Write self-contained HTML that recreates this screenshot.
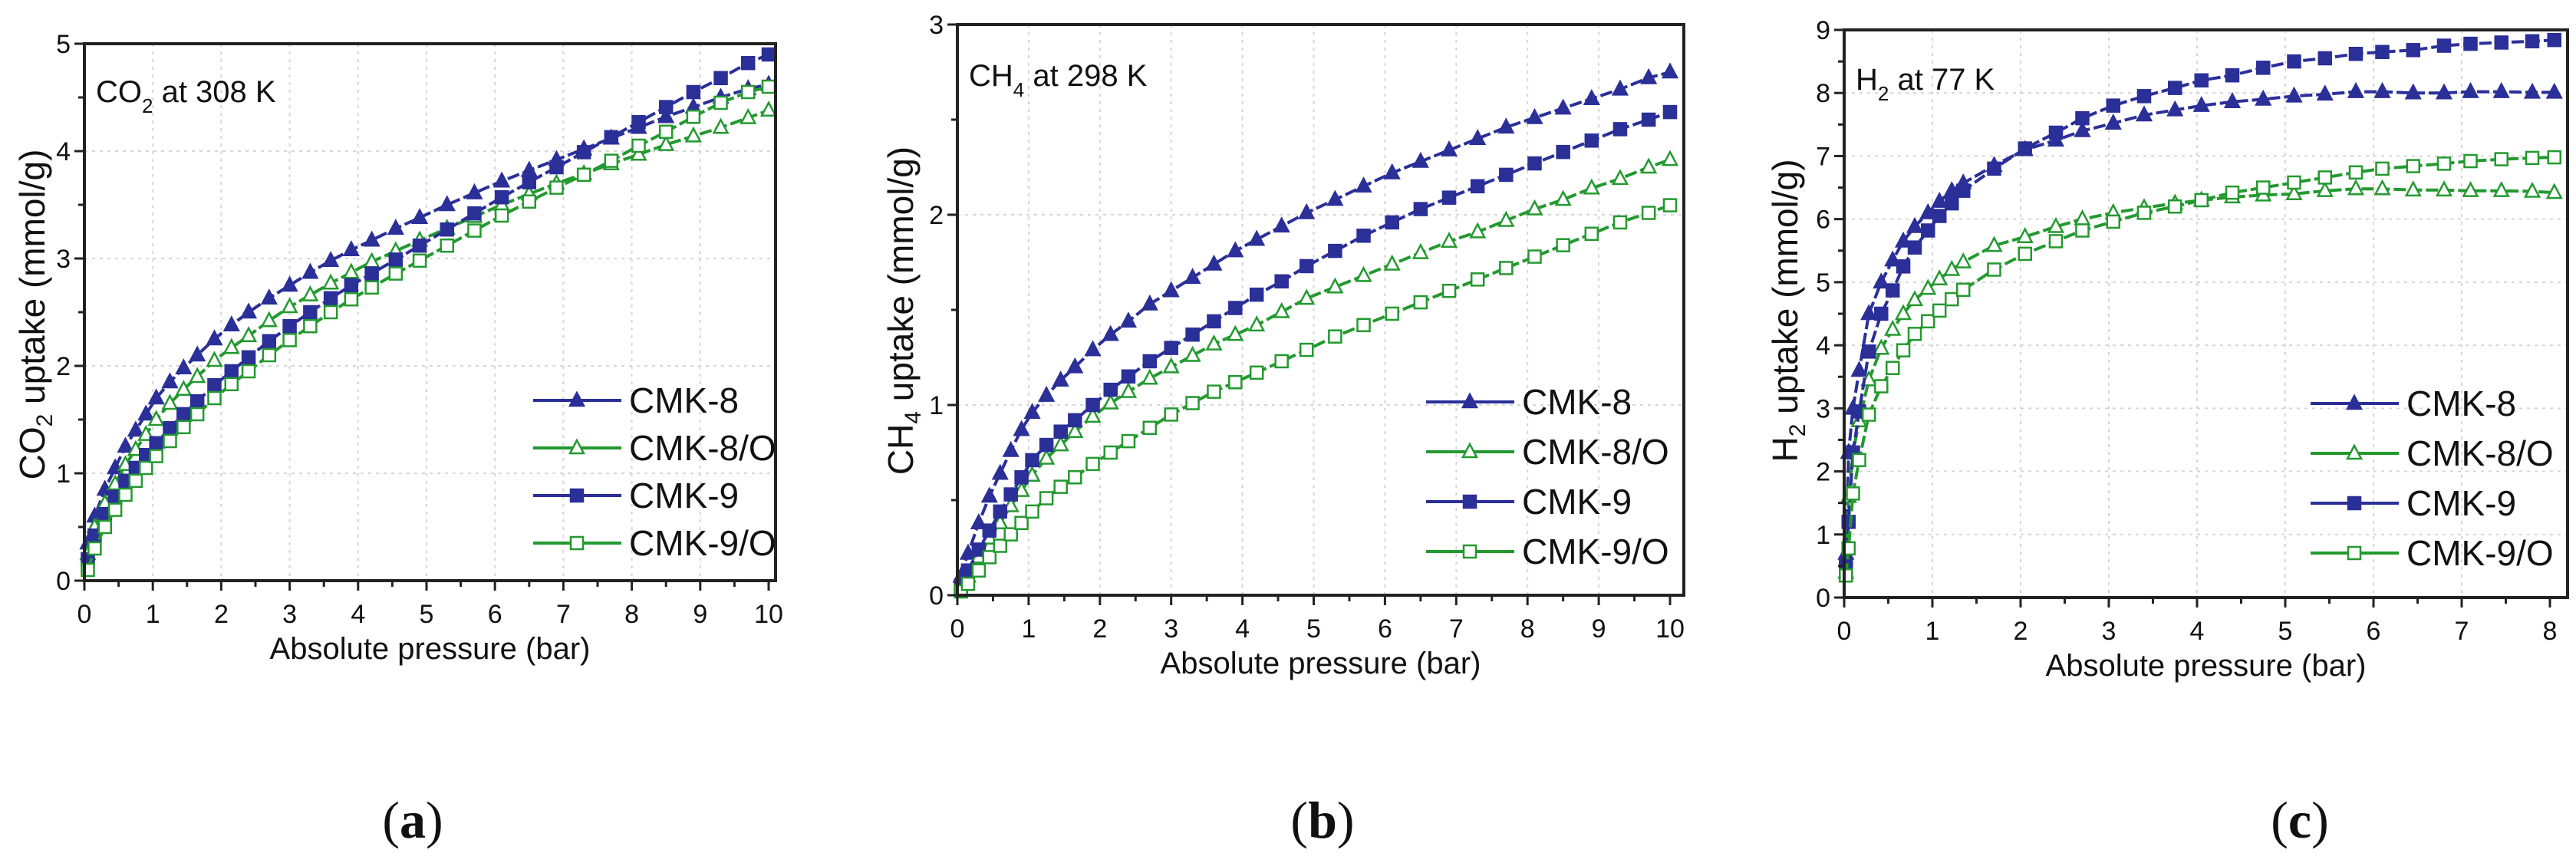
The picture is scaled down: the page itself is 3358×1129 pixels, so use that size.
<!DOCTYPE html>
<html><head><meta charset="utf-8">
<style>
html,body{margin:0;padding:0;background:#fff;}
svg{display:block;font-family:"Liberation Sans",sans-serif;}
</style></head>
<body>
<svg id="fig" width="3358" height="1129" viewBox="0 0 3358 1129" xmlns="http://www.w3.org/2000/svg"></svg>
<script>
// ---- Panel (a) CO2 data ----
const pA = [0.05,0.15,0.3,0.45,0.6,0.75,0.9,1.05,1.25,1.45,1.65,1.9,2.15,2.4,2.7,3,3.3,3.6,3.9,4.2,4.55,4.9,5.3,5.7,6.1,6.5,6.9,7.3,7.7,8.1,8.5,8.9,9.3,9.7,10];
const aCMK8 = [0.35,0.6,0.85,1.05,1.25,1.4,1.55,1.7,1.85,1.98,2.1,2.25,2.38,2.5,2.63,2.75,2.87,2.98,3.08,3.17,3.28,3.38,3.5,3.61,3.72,3.82,3.92,4.02,4.12,4.22,4.32,4.41,4.5,4.58,4.62];
const aCMK8O = [0.25,0.5,0.72,0.9,1.08,1.22,1.36,1.5,1.65,1.78,1.9,2.05,2.17,2.28,2.42,2.55,2.66,2.77,2.87,2.97,3.07,3.17,3.28,3.39,3.5,3.6,3.7,3.79,3.88,3.97,4.06,4.14,4.22,4.31,4.38];
const aCMK9 = [0.2,0.42,0.62,0.78,0.93,1.05,1.17,1.28,1.42,1.55,1.67,1.82,1.95,2.08,2.23,2.37,2.5,2.63,2.75,2.86,2.99,3.12,3.27,3.42,3.57,3.71,3.85,3.99,4.13,4.27,4.41,4.55,4.68,4.82,4.9];
const aCMK9O = [0.1,0.3,0.5,0.66,0.8,0.93,1.05,1.16,1.3,1.43,1.55,1.7,1.83,1.95,2.1,2.24,2.37,2.5,2.62,2.73,2.86,2.98,3.12,3.26,3.4,3.53,3.66,3.78,3.91,4.05,4.18,4.32,4.45,4.55,4.6];
// ---- Panel (b) CH4 data ----
const pB = [0.05,0.15,0.3,0.45,0.6,0.75,0.9,1.05,1.25,1.45,1.65,1.9,2.15,2.4,2.7,3,3.3,3.6,3.9,4.2,4.55,4.9,5.3,5.7,6.1,6.5,6.9,7.3,7.7,8.1,8.5,8.9,9.3,9.7,10];
const bCMK8 = [0.1,0.22,0.38,0.52,0.64,0.76,0.87,0.96,1.05,1.13,1.2,1.29,1.37,1.44,1.53,1.6,1.67,1.74,1.81,1.87,1.94,2.01,2.08,2.15,2.22,2.28,2.34,2.4,2.46,2.51,2.56,2.61,2.66,2.72,2.75];
const bCMK8O = [0.03,0.1,0.2,0.3,0.38,0.47,0.55,0.63,0.72,0.79,0.86,0.94,1.01,1.07,1.14,1.2,1.26,1.32,1.37,1.42,1.49,1.56,1.62,1.68,1.74,1.8,1.86,1.91,1.97,2.03,2.08,2.14,2.19,2.25,2.29];
const bCMK9 = [0.05,0.13,0.24,0.34,0.44,0.53,0.62,0.71,0.79,0.86,0.92,1.0,1.08,1.15,1.23,1.3,1.37,1.44,1.51,1.58,1.65,1.73,1.81,1.89,1.96,2.03,2.09,2.15,2.21,2.27,2.33,2.39,2.45,2.5,2.54];
const bCMK9O = [0.02,0.06,0.13,0.2,0.26,0.32,0.38,0.44,0.51,0.57,0.62,0.69,0.75,0.81,0.88,0.95,1.01,1.07,1.12,1.17,1.23,1.29,1.36,1.42,1.48,1.54,1.6,1.66,1.72,1.78,1.84,1.9,1.96,2.01,2.05];
// ---- Panel (c) H2 data ----
const pC = [0.02,0.05,0.1,0.17,0.28,0.42,0.55,0.67,0.8,0.95,1.08,1.22,1.35,1.7,2.05,2.4,2.7,3.05,3.4,3.75,4.05,4.4,4.75,5.1,5.45,5.8,6.1,6.45,6.8,7.1,7.45,7.8,8.05];
const cCMK8 = [0.7,2.3,3.0,3.6,4.5,5.0,5.35,5.65,5.88,6.1,6.28,6.45,6.57,6.85,7.1,7.25,7.4,7.52,7.65,7.73,7.8,7.86,7.9,7.95,7.98,8.02,8.02,8.0,8.0,8.02,8.02,8.01,8.01];
const cCMK8O = [0.4,1.6,2.3,2.8,3.45,3.95,4.25,4.5,4.72,4.9,5.05,5.2,5.32,5.58,5.72,5.88,6.0,6.1,6.18,6.25,6.3,6.35,6.38,6.4,6.45,6.48,6.48,6.46,6.46,6.45,6.45,6.44,6.42];
const cCMK9 = [0.5,1.2,2.3,2.95,3.9,4.5,4.87,5.25,5.55,5.82,6.05,6.25,6.45,6.8,7.12,7.37,7.6,7.8,7.95,8.08,8.2,8.28,8.4,8.5,8.55,8.62,8.65,8.68,8.75,8.78,8.8,8.82,8.84];
const cCMK9O = [0.35,0.78,1.65,2.18,2.9,3.35,3.64,3.92,4.18,4.38,4.55,4.73,4.88,5.2,5.45,5.65,5.82,5.96,6.1,6.2,6.3,6.42,6.5,6.58,6.66,6.74,6.8,6.84,6.88,6.92,6.95,6.97,6.98];
// ---- tick labels ----
const aXTicks = [0,1,2,3,4,5,6,7,8,9,10];
const aYTicks = [0,1,2,3,4,5];
const bXTicks = [0,1,2,3,4,5,6,7,8,9,10];
const bYTicks = [0,1,2,3];
const cXTicks = [0,1,2,3,4,5,6,7,8];
const cYTicks = [0,1,2,3,4,5,6,7,8,9];
const seriesNames = ["CMK-8","CMK-8/O","CMK-9","CMK-9/O"];

const NS="http://www.w3.org/2000/svg";
const svg=document.getElementById('fig');
const BLUE="#2b2f98", GREEN="#23992f";
function mk(tag,attrs,parent){const e=document.createElementNS(NS,tag);for(const k in attrs)e.setAttribute(k,attrs[k]);(parent||svg).appendChild(e);return e;}

function marker(g,type,x,y,color){
  const s=9;
  let e;
  if(type==='tri'||type==='trio'){
    e=mk('polygon',{points:`${x},${y-s-1} ${x-s},${y+s-2} ${x+s},${y+s-2}`,fill:type==='tri'?color:'#fff',stroke:color,'stroke-width':2.5},g);
  }else{
    e=mk('rect',{x:x-s+1,y:y-s+1,width:2*s-2,height:2*s-2,fill:type==='sq'?color:'#fff',stroke:color,'stroke-width':2.5},g);
  }
  
  
}

function panel(cfg){
  const g=mk('g',{});
  
  
  const X=v=>cfg.x0+(v-cfg.xmin)*(cfg.x1-cfg.x0)/(cfg.xmax-cfg.xmin);
  const Y=v=>cfg.y0-(v-cfg.ymin)*(cfg.y0-cfg.y1)/(cfg.ymax-cfg.ymin);
  cfg.xt.forEach(t=>{if(t>cfg.xmin&&t<cfg.xmax){const l=mk('line',{x1:X(t),x2:X(t),y1:cfg.top,y2:cfg.y0,stroke:'#d6d6d6','stroke-width':2,'stroke-dasharray':'4 6'},g);}});
  cfg.yt.forEach(t=>{if(t>cfg.ymin&&t<=cfg.ymax){const l=mk('line',{x1:cfg.x0,x2:cfg.right,y1:Y(t),y2:Y(t),stroke:'#d6d6d6','stroke-width':2,'stroke-dasharray':'4 6'},g);}});
  const defs=[[cfg.s[0],BLUE,'tri'],[cfg.s[1],GREEN,'trio'],[cfg.s[2],BLUE,'sq'],[cfg.s[3],GREEN,'sqo']];
  defs.forEach((d,i)=>{
    const sg=mk('g',{},g);
    
    
    const pts=cfg.p.map((p,j)=>X(p).toFixed(1)+','+Y(d[0][j]).toFixed(1)).join(' ');
    const pl=mk('polyline',{points:pts,fill:'none',stroke:d[1],'stroke-width':4,'stroke-dasharray':'16 5'},sg);
    
    
    cfg.p.forEach((p,j)=>marker(sg,d[2],X(p),Y(d[0][j]),d[1]));
  });
  const fr=mk('rect',{x:cfg.x0,y:cfg.top,width:cfg.right-cfg.x0,height:cfg.y0-cfg.top,fill:'none',stroke:'#222','stroke-width':4},g);
  
  cfg.xt.forEach((t,i)=>{
    mk('line',{x1:X(t),x2:X(t),y1:cfg.y0,y2:cfg.y0+13,stroke:'#222','stroke-width':3},g);
    if(i<cfg.xt.length-1){const h=(t+cfg.xt[i+1])/2;mk('line',{x1:X(h),x2:X(h),y1:cfg.y0,y2:cfg.y0+8,stroke:'#222','stroke-width':3},g);}
    const tx=mk('text',{x:X(t),y:cfg.y0+55,'font-size':34,'text-anchor':'middle',fill:'#111'},g);
    tx.textContent=t;
    
  });
  cfg.yt.forEach((t,i)=>{
    mk('line',{x1:cfg.x0-13,x2:cfg.x0,y1:Y(t),y2:Y(t),stroke:'#222','stroke-width':3},g);
    if(i<cfg.yt.length-1){const h=(t+cfg.yt[i+1])/2;mk('line',{x1:cfg.x0-8,x2:cfg.x0,y1:Y(h),y2:Y(h),stroke:'#222','stroke-width':3},g);}
    const tx=mk('text',{x:cfg.x0-18,y:Y(t)+12,'font-size':34,'text-anchor':'end',fill:'#111'},g);
    tx.textContent=t;
    
  });
  const xt=mk('text',{x:(cfg.x0+cfg.right)/2,y:cfg.y0+102,'font-size':40,'text-anchor':'middle',fill:'#111'},g);
  xt.textContent='Absolute pressure (bar)';
  
  const yt=mk('text',{x:0,y:0,'font-size':46,'text-anchor':'middle',fill:'#111',transform:`translate(${cfg.ytx},${cfg.yty}) rotate(-90)`},g);
  yt.innerHTML=cfg.gas+'<tspan font-size="30" dy="10">'+cfg.sub+'</tspan><tspan dy="-10"> uptake (mmol/g)</tspan>';
  
  const it=mk('text',{x:cfg.tx,y:cfg.ty,'font-size':40,fill:'#111'},g);
  it.innerHTML=cfg.gas+'<tspan font-size="26" dy="14">'+cfg.sub+'</tspan><tspan dy="-14"> at '+cfg.temp+'</tspan>';
  
  const lg=mk('g',{},g);
  
  defs.forEach((d,i)=>{
    const ly=cfg.ly0+i*cfg.lstep;
    const le=mk('g',{},lg);
    
    mk('line',{x1:cfg.lx,x2:cfg.lx+115,y1:ly,y2:ly,stroke:d[1],'stroke-width':4},le);
    marker(le,d[2],cfg.lx+57,ly,d[1]);
    const t=mk('text',{x:cfg.lx+125,y:ly+16,'font-size':46,fill:'#111'},le);
    t.textContent=seriesNames[i];
  });
  const pl=mk('text',{x:cfg.plx,y:1092,'font-size':68,'text-anchor':'middle','font-family':'Liberation Serif, serif',fill:'#111'},g);
  pl.innerHTML='(<tspan font-weight="bold">'+cfg.letter+'</tspan>)';
  
}

panel({name:'panel-a-co2',x0:110,x1:1002,right:1011,xmin:0,xmax:10,y0:757,y1:57,top:57,ymin:0,ymax:5,
  xt:aXTicks,yt:aYTicks,p:pA,s:[aCMK8,aCMK8O,aCMK9,aCMK9O],gas:'CO',sub:'2',temp:'308 K',
  tx:125,ty:133,ytx:58,yty:410,lx:695,ly0:522,lstep:62,plx:538,letter:'a'});
panel({name:'panel-b-ch4',x0:1248,x1:2177,right:2195,xmin:0,xmax:10,y0:776,y1:32,top:32,ymin:0,ymax:3,
  xt:bXTicks,yt:bYTicks,p:pB,s:[bCMK8,bCMK8O,bCMK9,bCMK9O],gas:'CH',sub:'4',temp:'298 K',
  tx:1263,ty:112,ytx:1190,yty:405,lx:1859,ly0:524,lstep:65,plx:1724,letter:'b'});
panel({name:'panel-c-h2',x0:2404,x1:3324,right:3347,xmin:0,xmax:8,y0:779,y1:39,top:39,ymin:0,ymax:9,
  xt:cXTicks,yt:cYTicks,p:pC,s:[cCMK8,cCMK8O,cCMK9,cCMK9O],gas:'H',sub:'2',temp:'77 K',
  tx:2419,ty:117,ytx:2343,yty:405,lx:3012,ly0:526,lstep:65,plx:2998,letter:'c'});
</script>
</body></html>
